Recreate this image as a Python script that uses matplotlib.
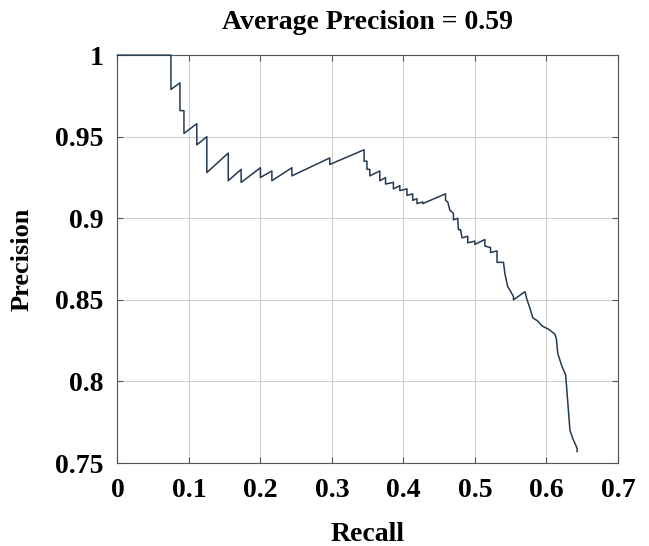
import matplotlib
matplotlib.use('Agg')
import matplotlib.pyplot as plt

# PR curve vertices
recall = [0.0, 0.0748, 0.0748, 0.0874, 0.0874, 0.093, 0.093, 0.111, 0.111, 0.125, 0.125,
          0.155, 0.155, 0.173, 0.173, 0.200, 0.200, 0.216, 0.216, 0.244, 0.244, 0.297, 0.297,
          0.345, 0.345, 0.349, 0.349, 0.353, 0.353, 0.367, 0.367, 0.375, 0.375, 0.386, 0.386,
          0.395, 0.395, 0.405, 0.405, 0.413, 0.413, 0.419, 0.419, 0.427, 0.427, 0.459, 0.459,
          0.462, 0.465, 0.470, 0.470, 0.476, 0.477, 0.480, 0.482, 0.490, 0.490, 0.500, 0.500,
          0.514, 0.514, 0.522, 0.522, 0.531, 0.531, 0.540, 0.542, 0.546, 0.549, 0.554, 0.554,
          0.570, 0.573, 0.577, 0.581, 0.588, 0.594, 0.603, 0.612, 0.614, 0.616, 0.622, 0.627,
          0.630, 0.633, 0.637, 0.640, 0.643, 0.643]
precision = [1.0, 1.0, 0.979, 0.983, 0.966, 0.966, 0.952, 0.958, 0.945, 0.950, 0.928,
             0.940, 0.923, 0.930, 0.922, 0.931, 0.925, 0.929, 0.923, 0.931, 0.926, 0.937, 0.933,
             0.942, 0.935, 0.935, 0.930, 0.930, 0.926, 0.929, 0.923, 0.925, 0.921, 0.922, 0.918,
             0.920, 0.917, 0.918, 0.914, 0.915, 0.911, 0.912, 0.909, 0.910, 0.909, 0.915, 0.911,
             0.910, 0.905, 0.903, 0.899, 0.900, 0.893, 0.893, 0.888, 0.889, 0.885, 0.886, 0.884,
             0.887, 0.883, 0.882, 0.879, 0.880, 0.873, 0.873, 0.866, 0.858, 0.856, 0.852, 0.850,
             0.855, 0.850, 0.845, 0.839, 0.837, 0.834, 0.832, 0.829, 0.826, 0.817, 0.809, 0.804,
             0.787, 0.770, 0.765, 0.762, 0.759, 0.757]

xticks = [0, 0.1, 0.2, 0.3, 0.4, 0.5, 0.6, 0.7]
yticks = [0.75, 0.8, 0.85, 0.9, 0.95, 1]

plt.rcParams['font.family'] = ['Liberation Serif', 'DejaVu Serif']
plt.rcParams['font.weight'] = 'bold'

fig = plt.figure(figsize=(6.49, 5.46), dpi=100)
ax = fig.add_axes([0.181, 0.152, 0.771, 0.747])

ax.plot(recall, precision, color='#243a52', lw=1.1, clip_on=False, zorder=5)

ax.set_xlim(0, 0.7)
ax.set_ylim(0.75, 1)
ax.set_xticks(xticks)
ax.set_xticklabels(['0', '0.1', '0.2', '0.3', '0.4', '0.5', '0.6', '0.7'])
ax.set_yticks(yticks)
ax.set_yticklabels(['0.75', '0.8', '0.85', '0.9', '0.95', '1'])
ax.grid(True, color='#d0d0d0', lw=0.8)
ax.tick_params(direction='in', top=True, right=True, length=4, labelsize=20,
               color='#555555')
ax.tick_params(axis='y', pad=10)
ax.tick_params(axis='x', pad=11)
for s in ax.spines.values():
    s.set_color('#555555')

ax.set_title('Average Precision = 0.59', fontsize=20, fontweight='bold', pad=19)
ax.set_xlabel('Recall', fontsize=20, fontweight='bold')
ax.set_ylabel('Precision', fontsize=19, fontweight='bold')
ax.xaxis.set_label_coords(0.5, -0.145)
ax.yaxis.set_label_coords(-0.168, 0.5)

fig.savefig('out.png', dpi=100)
